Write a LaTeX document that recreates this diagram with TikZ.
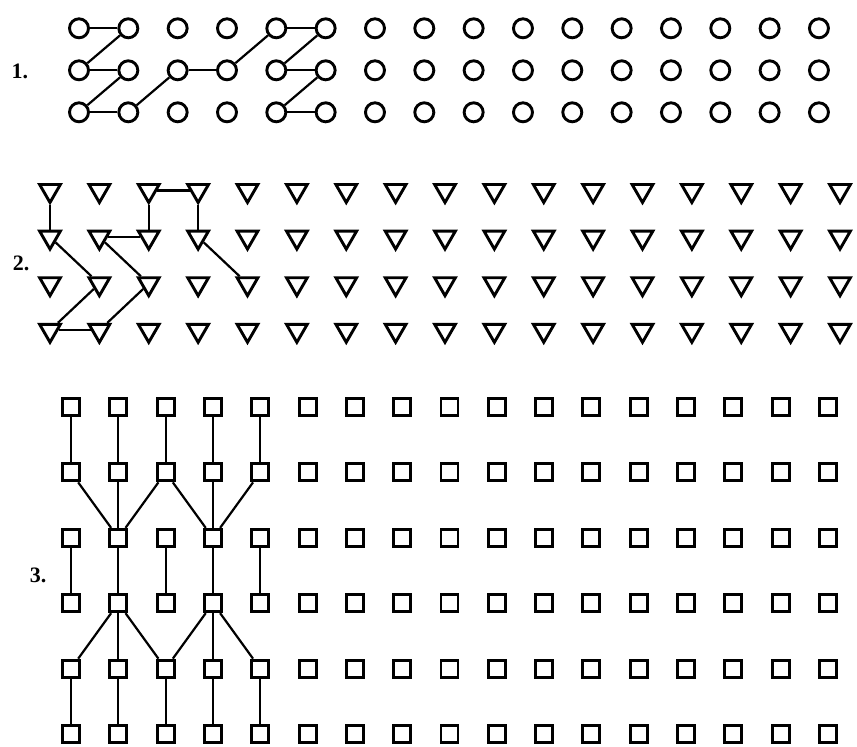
\documentclass[tikz,border=0pt]{standalone}
\usepackage{fontspec}
\setmainfont{Liberation Serif}
\usetikzlibrary{shapes.geometric}
\begin{document}
\begin{tikzpicture}[x=1pt,y=-1pt,
 circ/.style={circle,draw,line width=2.9pt,minimum size=19pt,inner sep=0pt},
 tri/.style={regular polygon,regular polygon sides=3,shape border rotate=180,draw,line width=2.9pt,minimum size=24pt,inner sep=0pt},
 sq/.style={rectangle,draw,line width=2.9pt,minimum size=17pt,inner sep=0pt},
 link/.style={line width=2.2pt},
 lab/.style={font=\fontsize{22}{26}\selectfont\bfseries,inner sep=0pt}]
\useasboundingbox (0,0) rectangle (857,747);
% section 1: circles
\foreach \c in {1,...,16} \foreach \r in {1,2,3}
  \node[circ] (a-\c-\r) at ({79+(\c-1)*49.33},{28.3+(\r-1)*42}) {};
\node[lab] (l1) at (20,71) {1.};
\draw[link] (a-1-1) -- (a-2-1);
\draw[link] (a-2-1) -- (a-1-2);
\draw[link] (a-1-2) -- (a-2-2);
\draw[link] (a-2-2) -- (a-1-3);
\draw[link] (a-1-3) -- (a-2-3);
\draw[link] (a-2-3) -- (a-3-2);
\draw[link] (a-3-2) -- (a-4-2);
\draw[link] (a-4-2) -- (a-5-1);
\draw[link] (a-5-1) -- (a-6-1);
\draw[link] (a-6-1) -- (a-5-2);
\draw[link] (a-5-2) -- (a-6-2);
\draw[link] (a-6-2) -- (a-5-3);
\draw[link] (a-5-3) -- (a-6-3);
% section 2: triangles
\foreach \c in {1,...,17} \foreach \r in {1,2,3,4}
  \node[tri] (b-\c-\r) at ({50+(\c-1)*49.375},{190.5+(\r-1)*46.6}) {};
\node[lab] (l2) at (21,263) {2.};
\draw[link] (b-1-1) -- (b-1-2);
\draw[link] (b-3-1) -- (b-4-1);
\draw[link] (b-3-1) -- (b-3-2);
\draw[link] (b-4-1) -- (b-4-2);
\draw[link] (b-3-2) -- (b-2-2);
\draw[link] (b-1-2) -- (b-2-3);
\draw[link] (b-2-3) -- (b-1-4);
\draw[link] (b-1-4) -- (b-2-4);
\draw[link] (b-2-4) -- (b-3-3);
\draw[link] (b-3-3) -- (b-2-2);
\draw[link] (b-4-2) -- (b-5-3);
% section 3: squares
\foreach \c in {1,...,17} \foreach \r in {1,...,6}
  \node[sq] (s-\c-\r) at ({71+(\c-1)*47.31},{407+(\r-1)*65.4}) {};
\node[lab] (l3) at (38,575) {3.};
\foreach \c in {1,...,5} {
  \draw[link] (s-\c-1) -- (s-\c-2);
  \draw[link] (s-\c-3) -- (s-\c-4);
  \draw[link] (s-\c-5) -- (s-\c-6);
}
\draw[link] (s-1-2) -- (s-2-3);
\draw[link] (s-2-2) -- (s-2-3);
\draw[link] (s-3-2) -- (s-2-3);
\draw[link] (s-3-2) -- (s-4-3);
\draw[link] (s-4-2) -- (s-4-3);
\draw[link] (s-5-2) -- (s-4-3);
\draw[link] (s-2-4) -- (s-1-5);
\draw[link] (s-2-4) -- (s-2-5);
\draw[link] (s-2-4) -- (s-3-5);
\draw[link] (s-4-4) -- (s-3-5);
\draw[link] (s-4-4) -- (s-4-5);
\draw[link] (s-4-4) -- (s-5-5);
\end{tikzpicture}
\end{document}
